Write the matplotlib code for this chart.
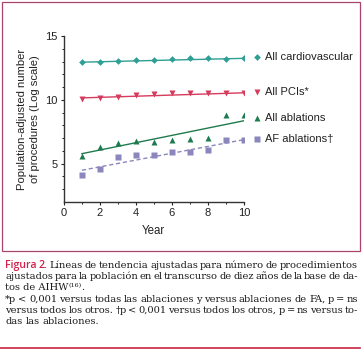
import numpy as np
import matplotlib
matplotlib.use('Agg')
import matplotlib.pyplot as plt
from matplotlib.patches import Rectangle
from matplotlib.lines import Line2D

years = np.arange(1, 11)
cardio = [12.95, 13.0, 13.05, 13.1, 13.15, 13.2, 13.25, 13.25, 13.2, 13.25]
pci = [10.1, 10.15, 10.25, 10.4, 10.45, 10.5, 10.5, 10.5, 10.5, 10.55]
abl = [5.57, 6.27, 6.62, 6.77, 6.72, 6.85, 6.93, 6.98, 8.78, 8.8]
af = [4.09, 4.61, 5.52, 5.70, 5.65, 5.91, 5.94, 6.10, 6.85, 6.88]
# trend line end values (year 1, year 10)
trend_cardio = [12.95, 13.25]
trend_pci = [10.15, 10.55]
trend_abl = [5.78, 8.36]
trend_af = [4.48, 6.88]
labels = ['All cardiovascular', 'All PCIs*', 'All ablations', 'AF ablations\u2020']
label_y = [13.35, 10.6, 8.6, 6.95]

teal = '#2f9e94'
red = '#d63a5c'
green = '#1f7a4e'
purple = '#8b86bb'

fig = plt.figure(figsize=(3.63, 3.53), dpi=100)
plt.rcParams['font.family'] = ['Liberation Sans', 'DejaVu Sans']

ax = fig.add_axes([0.176, 0.428, 0.496, 0.470])
series = [
    (cardio, trend_cardio, teal, 'D', 3.4, '-'),
    (pci, trend_pci, red, 'v', 4.8, '-'),
    (abl, trend_abl, green, '^', 4.8, '-'),
    (af, trend_af, purple, 's', 5.0, '--'),
]
for (vals, tr, col, mk, ms, ls), lab, ly in zip(series, labels, label_y):
    ax.plot([years[0], years[-1]], tr, color=col, lw=1.0, ls=ls, dashes=(3, 2) if ls == '--' else (None, None))
    ax.plot(years, vals, mk, color=col, ms=ms, mec='none')
    ax.plot([10.7], [ly], mk, color=col, ms=ms, mec='none', clip_on=False)
    ax.text(11.15, ly, lab, fontsize=8.0, va='center', ha='left', color='#222222')

ax.set_xlim(0, 10)
ax.set_ylim(2, 15)
ax.set_xticks([0, 2, 4, 6, 8, 10])
ax.set_xticks(np.arange(1, 10, 2), minor=True)
ax.set_yticks([5, 10, 15])
ax.set_yticks(np.arange(3, 15), minor=True)
ax.tick_params(labelsize=8.0, length=2.5, width=0.8, pad=2, colors='#222222')
ax.tick_params(which='minor', length=1.5, width=0.6)
for s in ['top', 'right']:
    ax.spines[s].set_visible(False)
for s in ['left', 'bottom']:
    ax.spines[s].set_linewidth(1.0)
    ax.spines[s].set_color('#333333')
ax.set_xlabel('Year', fontsize=8.3, labelpad=5, color='#222222')
ax.set_ylabel('Population-adjusted number\nof procedures (Log scale)', fontsize=8.1,
              labelpad=4, color='#222222', linespacing=1.3)

# frame around the chart
fig.patches.append(Rectangle((2 / 363, 1 - 251 / 353), 358 / 363, 249 / 353,
                             transform=fig.transFigure, fill=False, ec='#a8456c', lw=0.9))
fig.lines.append(Line2D([0.0, 360 / 363], [1 - 348 / 353] * 2, transform=fig.transFigure,
                        color='#c8253f', lw=1.2))

# caption, justified lines
serif = 'DejaVu Serif'
fs = 7.1
left, right = 5, 358
renderer = fig.canvas.get_renderer()


def width_of(s, size=fs, **kw):
    t = fig.text(0, 0, s, fontsize=size, **kw)
    w = t.get_window_extent(renderer).width
    t.remove()
    return w


def put_line(words, ypix, justify=True):
    # words: list of (string, size, kwargs)
    ws = [width_of(w, sz, **kw) for w, sz, kw in words]
    gap = width_of('a a', family=serif) - width_of('aa', family=serif)
    if justify and len(words) > 1:
        gap = (right - left - sum(ws)) / (len(words) - 1)
    x = left
    for (w, sz, kw), wd in zip(words, ws):
        fig.text(x / 363, 1 - ypix / 353, w, fontsize=sz, va='baseline', ha='left', **kw)
        x += wd + gap


body = dict(family=serif, color='#1a1a1a')
fig_kw = dict(family='Open Sans', color='#d4204a', fontweight='semibold')
cap = [
    ([('Figura', 7.6, fig_kw), ('2.', 7.6, fig_kw)] +
     [(w, fs, body) for w in 'Líneas de tendencia ajustadas para número de procedimientos'.split()], 268, True),
    ([(w, fs, body) for w in 'ajustados para la población en el transcurso de diez años de la base de da-'.split()], 279, True),
    ([(w, fs, body) for w in '*p < 0,001 versus todas las ablaciones y versus ablaciones de FA, p = ns'.split()], 302, True),
    ([(w, fs, body) for w in 'versus todos los otros. \u2020p < 0,001 versus todos los otros, p = ns versus to-'.split()], 313, True),
    ([(w, fs, body) for w in 'das las ablaciones.'.split()], 324, False),
]
for words, yp, j in cap:
    put_line(words, yp, j)

# line with superscript reference
x = left
for part, size, dy in [('tos de AIHW', fs, 0), ('(16)', 4.6, 3), ('.', fs, 0)]:
    t = fig.text(x / 363, 1 - (290 - dy) / 353, part, fontsize=size, va='baseline', ha='left', **body)
    x += t.get_window_extent(renderer).width

fig.savefig('out.png', dpi=100)
